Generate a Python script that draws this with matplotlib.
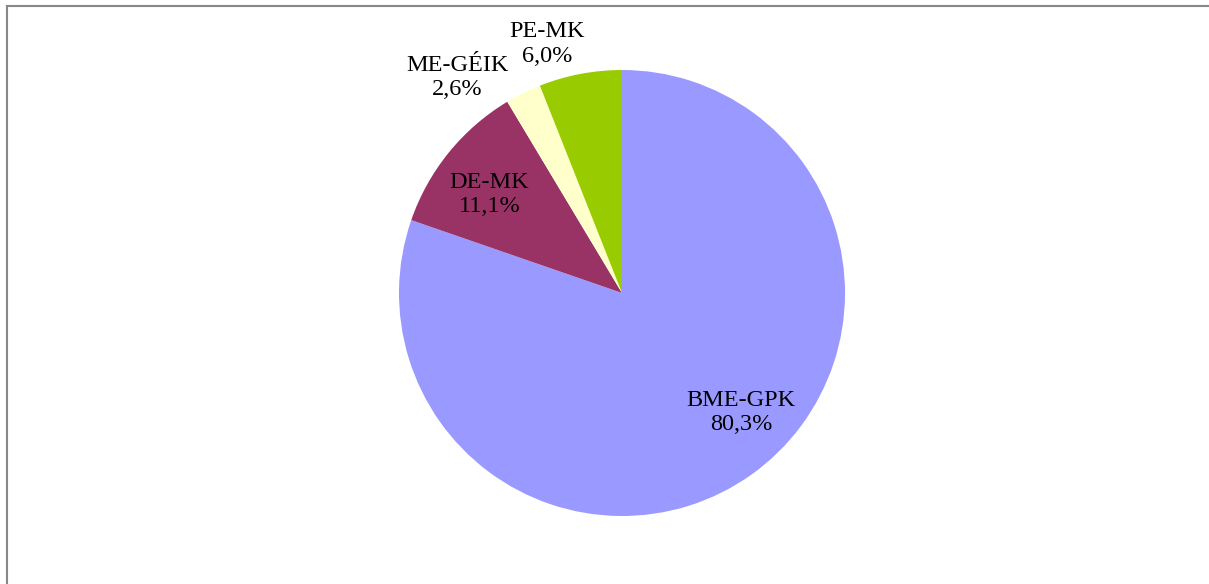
import matplotlib.pyplot as plt
from matplotlib.lines import Line2D

plt.rcParams['font.family'] = ['Liberation Serif', 'DejaVu Serif']

# adatok
labels = ['BME-GPK', 'DE-MK', 'ME-GÉIK', 'PE-MK']
values = [80.3, 11.1, 2.6, 6.0]
colors = ['#9999FF', '#993366', '#FFFFCC', '#99CC00']
# cimke helyek (a kör sugarához mérten)
label_pos = [(0.535, -0.535), (-0.595, 0.44), (-0.74, 0.965), (-0.335, 1.117)]

W, H = 1209, 584
fig = plt.figure(figsize=(W / 100, H / 100), dpi=100)

# a kör helye pixelben
cx, cy, r = 622, 293, 223
ax = fig.add_axes([(cx - r) / W, (H - cy - r) / H, 2 * r / W, 2 * r / H])

wedges, _ = ax.pie(values, colors=colors, startangle=90, counterclock=False,
                   radius=1, wedgeprops=dict(linewidth=0))
ax.set_xlim(-1, 1)
ax.set_ylim(-1, 1)
ax.set_aspect('equal')
ax.axis('off')

for lab, val, (x, y) in zip(labels, values, label_pos):
    txt = lab + '\n' + ('%.1f' % val).replace('.', ',') + '%'
    ax.text(x, y, txt, ha='center', va='center', fontsize=17.5,
            linespacing=1.2, clip_on=False)

# keret (csak felül és bal oldalt látszik)
fig.add_artist(Line2D([6.5 / W, 1], [1 - 5.5 / H, 1 - 5.5 / H],
                      transform=fig.transFigure, color='#888888', lw=1.5))
fig.add_artist(Line2D([6.5 / W, 6.5 / W], [0, 1 - 5.5 / H],
                      transform=fig.transFigure, color='#888888', lw=1.5))

plt.savefig('out.png', dpi=100)
